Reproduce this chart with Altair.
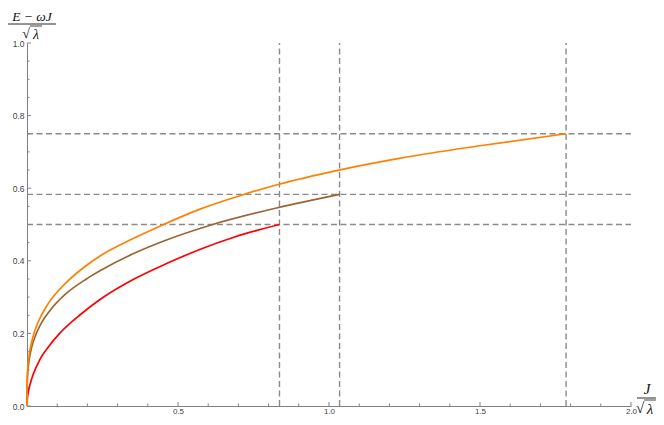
import altair as alt
import pandas as pd

# ---- data ----
red_x = [0, 0.0005, 0.002, 0.005, 0.011, 0.02, 0.042, 0.07, 0.108, 0.174, 0.243, 0.353, 0.464, 0.574, 0.685, 0.836]
red_y = [0, 0.013, 0.026, 0.042, 0.062, 0.086, 0.127, 0.162, 0.200, 0.250, 0.294, 0.349, 0.393, 0.432, 0.465, 0.500]

brown_x = [0, 0.0005, 0.002, 0.007, 0.015, 0.031, 0.05, 0.075, 0.13, 0.197, 0.243, 0.353, 0.464, 0.607, 0.834, 1.035]
brown_y = [0, 0.055, 0.085, 0.126, 0.160, 0.200, 0.232, 0.262, 0.310, 0.350, 0.373, 0.420, 0.458, 0.498, 0.547, 0.583]

orange_x = [0, 0.0005, 0.002, 0.007, 0.015, 0.025, 0.04, 0.064, 0.1, 0.141, 0.19, 0.243, 0.353, 0.436, 0.575,
            0.707, 0.834, 1.033, 1.237, 1.5, 1.785]
orange_y = [0, 0.064, 0.097, 0.139, 0.175, 0.205, 0.237, 0.274, 0.314, 0.349, 0.383, 0.414, 0.462, 0.494, 0.543,
            0.580, 0.611, 0.650, 0.683, 0.717, 0.750]

h_lines = [0.5, 0.583, 0.75]
v_lines = [0.836, 1.035, 1.785]

x_major = [0.5, 1.0, 1.5, 2.0]
x_minor = [0.1, 0.2, 0.3, 0.4, 0.6, 0.7, 0.8, 0.9, 1.1, 1.2, 1.3, 1.4, 1.6, 1.7, 1.8, 1.9]
y_major = [0.0, 0.2, 0.4, 0.6, 0.8, 1.0]
y_minor = [0.05, 0.1, 0.15, 0.25, 0.3, 0.35, 0.45, 0.5, 0.55, 0.65, 0.7, 0.75, 0.85, 0.9, 0.95]

series_names = ["red", "brown", "orange"]
series_colors = ["#FF0000", "#996633", "#FF8000"]

# ---- tables ----
rows = []
for name, xs, ys in [("red", red_x, red_y), ("brown", brown_x, brown_y), ("orange", orange_x, orange_y)]:
    for i, (a, b) in enumerate(zip(xs, ys)):
        rows.append({"s": name, "x": a, "y": b, "o": i})
curves = pd.DataFrame(rows)

hdf = pd.DataFrame({"y": h_lines, "x0": [0.0] * len(h_lines), "x1": [2.0] * len(h_lines)})
vdf = pd.DataFrame({"x": v_lines, "y0": [0.0] * len(v_lines), "y1": [1.0] * len(v_lines)})

XS = alt.Scale(domain=[0, 2], nice=False, zero=False)
YS = alt.Scale(domain=[0, 1], nice=False, zero=False)

X_AX = alt.Axis(values=x_major, format=".1f", title=None, grid=False, ticks=False, tickSize=0,
                labelPadding=1.5, labelFlush=False, labelOverlap=False, labelFontSize=8,
                labelColor="#444444", labelFont="Liberation Sans", domainColor="#808080",
                domainWidth=1)
Y_AX = alt.Axis(values=y_major, format=".1f", title=None, grid=False, ticks=False, tickSize=0,
                labelPadding=3, labelFlush=False, labelOverlap=False, labelFontSize=8.5,
                labelColor="#444444", labelFont="Liberation Sans", domainColor="#808080",
                domainWidth=1)

tick_rows = []
for v in x_major:
    tick_rows.append({"x": v, "x2": v, "y": 0.0, "y2": 0.011})
for v in x_minor:
    tick_rows.append({"x": v, "x2": v, "y": 0.0, "y2": 0.007})
for v in y_major:
    tick_rows.append({"x": 0.0, "x2": 0.0132, "y": v, "y2": v})
for v in y_minor:
    tick_rows.append({"x": 0.0, "x2": 0.0083, "y": v, "y2": v})
ticks_df = pd.DataFrame(tick_rows)

dash = [6, 3.5]
grey = "#8a8a8a"

hrules = alt.Chart(hdf).mark_rule(color=grey, strokeDash=dash, strokeWidth=1.4).encode(
    x=alt.X("x0:Q", scale=XS, axis=X_AX), x2="x1", y=alt.Y("y:Q", scale=YS, axis=Y_AX))
vrules = alt.Chart(vdf).mark_rule(color=grey, strokeDash=dash, strokeWidth=1.4).encode(
    x=alt.X("x:Q", scale=XS, axis=X_AX), y=alt.Y("y0:Q", scale=YS, axis=Y_AX), y2="y1")

ticks = alt.Chart(ticks_df).mark_rule(color="#808080", strokeWidth=1).encode(
    x=alt.X("x:Q", scale=XS, axis=X_AX), x2="x2", y=alt.Y("y:Q", scale=YS, axis=Y_AX), y2="y2")

lines = alt.Chart(curves).mark_line(strokeWidth=1.7, interpolate="monotone").encode(
    x=alt.X("x:Q", scale=XS, axis=X_AX),
    y=alt.Y("y:Q", scale=YS, axis=Y_AX),
    color=alt.Color("s:N", scale=alt.Scale(domain=series_names, range=series_colors), legend=None),
    detail="s:N",
    order="o:Q",
)

one = pd.DataFrame({"k": [0]})
serif = "Liberation Serif"
ink = "#111111"

def txt(s, x, y, size=14, italic=True, font=serif):
    return alt.Chart(pd.DataFrame({"t": [s]})).mark_text(
        font=font, fontSize=size, fontStyle="italic" if italic else "normal",
        color=ink, align="center", baseline="middle").encode(
        x=alt.value(x), y=alt.value(y), text="t:N")

def bar(x0, x1, y, w=0.9):
    return alt.Chart(one).mark_rule(color=ink, strokeWidth=w).encode(
        x=alt.value(x0), x2=alt.value(x1), y=alt.value(y))

def radical(cx, cy, size=15):
    # √ sign, italic lambda, and the vinculum over the lambda
    return [
        txt("√", cx - 5, cy, size, italic=False),
        txt("λ", cx + 5, cy + 1, size),
        bar(cx - 1, cx + 11, cy - 7.5, 0.8),
    ]

# y-axis title  (E - ωJ) / √λ
ytitle = [txt("E − ωJ", 5, -26.5, 13.5), bar(-19, 29, -19)] + radical(4, -9.5, 14)
# x-axis title  J / √λ
xtitle = [txt("J", 620, 346, 15), bar(610, 629, 355)] + radical(618, 364.5)

chart = alt.layer(hrules, vrules, ticks, lines, *ytitle, *xtitle).properties(
    width=604, height=363,
    autosize=alt.AutoSizeParams(type="none"),
    padding={"left": 19, "top": 35, "right": 25, "bottom": 11},
    background="white",
).configure_view(stroke=None)

chart.save("out.html", embed_options={"renderer": "svg", "actions": False})
